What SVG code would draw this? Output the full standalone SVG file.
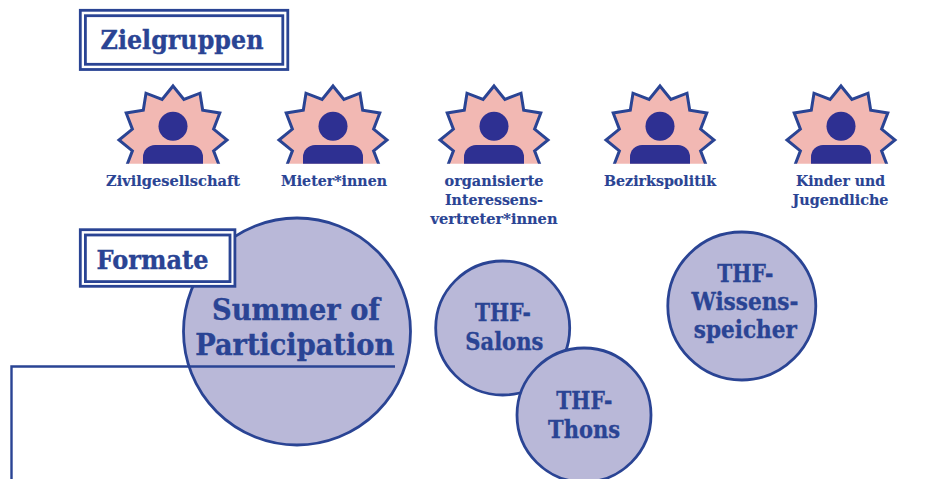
<svg xmlns="http://www.w3.org/2000/svg" xmlns:xlink="http://www.w3.org/1999/xlink" width="928" height="479" viewBox="0 0 928 479">
<style>
text{font-family:"DejaVu Serif","Liberation Serif",serif;font-weight:700;fill:#2a4494;stroke:#2a4494;text-anchor:middle}
.box{fill:#fff;stroke:#2a4494;stroke-width:2.8}
.circ{fill:#b9b8d8;stroke:#2a4494;stroke-width:2.8}
.star{fill:#f2b8b3;stroke:#2a4494;stroke-width:3;stroke-linejoin:miter}
.p{fill:#2e3092}
.lab{font-size:14px;stroke-width:.15}
.h{font-size:26px;stroke-width:.35}
.c1{font-size:30px;stroke-width:.4}
.c2{font-size:24px;stroke-width:.35}
.line{fill:none;stroke:#2a4494;stroke-width:2.4}
</style>
<defs>
<clipPath id="cut"><rect x="-60" y="-60" width="120" height="83.8"/></clipPath>
<g id="person">
<g clip-path="url(#cut)"><polygon class="star" points="0,-54 10.9,-40.6 27,-46.8 29.7,-29.7 46.8,-27 40.6,-10.9 54,0 40.6,10.9 46.8,27 29.7,29.7 27,46.8 10.9,40.6 0,54 -10.9,40.6 -27,46.8 -29.7,29.7 -46.8,27 -40.6,10.9 -54,0 -40.6,-10.9 -46.8,-27 -29.7,-29.7 -27,-46.8 -10.9,-40.6"/></g>
<circle class="p" cx="0" cy="-13.7" r="14.5"/>
<path class="p" d="M-30,23.8V17A12,12 0 0 1 -18,5H18A12,12 0 0 1 30,17V23.8Z"/>
</g>
</defs>
<g id="connectors"></g>
<g id="node-summer"><circle class="circ" cx="297" cy="331.5" r="113.5"/>
<text class="c1" x="296" y="320" textLength="168" lengthAdjust="spacingAndGlyphs">Summer of</text>
<text class="c1" x="294.7" y="355" textLength="199" lengthAdjust="spacingAndGlyphs">Participation</text></g>
<g id="connector-line"><path class="line" d="M11.5,479V366.5H395"/></g>
<g id="heading-zielgruppen"><rect class="box" x="80.3" y="10.3" width="207.5" height="59.2"/><rect class="box" x="85.4" y="15.7" width="197.4" height="48.6"/>
<text class="h" x="182" y="49" textLength="163" lengthAdjust="spacingAndGlyphs">Zielgruppen</text></g>
<g id="heading-formate"><rect class="box" x="80.3" y="229.7" width="154.6" height="56.6"/><rect class="box" x="85.4" y="235" width="144.6" height="46.6"/>
<text class="h" x="152.5" y="269" textLength="112" lengthAdjust="spacingAndGlyphs">Formate</text></g>
<g id="node-zivil"><use href="#person" xlink:href="#person" x="173" y="140"/><text class="lab" x="173" y="186" textLength="134" lengthAdjust="spacingAndGlyphs">Zivilgesellschaft</text></g>
<g id="node-mieter"><use href="#person" xlink:href="#person" x="333" y="140"/><text class="lab" x="334" y="186" textLength="106" lengthAdjust="spacingAndGlyphs">Mieter*innen</text></g>
<g id="node-interessen"><use href="#person" xlink:href="#person" x="494" y="140"/><text class="lab" x="494" y="186" textLength="99" lengthAdjust="spacingAndGlyphs">organisierte</text><text class="lab" x="494" y="205" textLength="98" lengthAdjust="spacingAndGlyphs">Interessens-</text><text class="lab" x="494" y="224" textLength="127" lengthAdjust="spacingAndGlyphs">vertreter*innen</text></g>
<g id="node-bezirk"><use href="#person" xlink:href="#person" x="660" y="140"/><text class="lab" x="660" y="186" textLength="112" lengthAdjust="spacingAndGlyphs">Bezirkspolitik</text></g>
<g id="node-kinder"><use href="#person" xlink:href="#person" x="841" y="140"/><text class="lab" x="840.5" y="186" textLength="89" lengthAdjust="spacingAndGlyphs">Kinder und</text><text class="lab" x="840.5" y="205" textLength="96" lengthAdjust="spacingAndGlyphs">Jugendliche</text></g>
<g id="node-salons"><circle class="circ" cx="502.7" cy="328" r="67"/><text class="c2" x="503" y="321" textLength="56" lengthAdjust="spacingAndGlyphs">THF-</text><text class="c2" x="504.3" y="350" textLength="78" lengthAdjust="spacingAndGlyphs">Salons</text></g>
<g id="node-thons"><circle class="circ" cx="584" cy="415" r="67"/><text class="c2" x="584.3" y="409.3" textLength="56" lengthAdjust="spacingAndGlyphs">THF-</text><text class="c2" x="584" y="437.7" textLength="72" lengthAdjust="spacingAndGlyphs">Thons</text></g>
<g id="node-wissen"><circle class="circ" cx="741.8" cy="306" r="74"/><text class="c2" x="745.3" y="282.3" textLength="56" lengthAdjust="spacingAndGlyphs">THF-</text><text class="c2" x="745" y="310" textLength="107" lengthAdjust="spacingAndGlyphs">Wissens-</text><text class="c2" x="745.3" y="338" textLength="103" lengthAdjust="spacingAndGlyphs">speicher</text></g>
</svg>
